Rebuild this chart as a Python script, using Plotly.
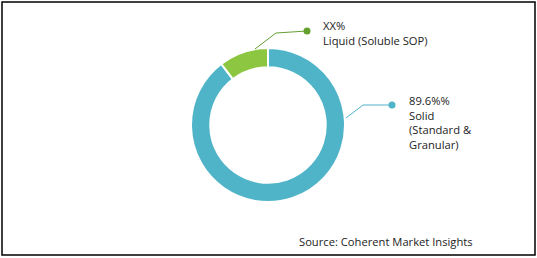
import plotly.graph_objects as go

labels = ["Solid (Standard & Granular)", "Liquid (Soluble SOP)"]
values = [89.6, 10.4]
label_texts = ["89.6%%<br>Solid<br>(Standard &<br>Granular)", "XX%<br>Liquid (Soluble SOP)"]
colors = ["#4FB4C8", "#8DC641"]
dot_colors = ["#4FB4C8", "#64A02F"]
source = "Source: Coherent Market Insights"

W, H = 537, 258
def px(x): return x / W
def py(y): return 1 - y / H

cx, cy, r = 268, 125, 77
fig = go.Figure()
fig.add_trace(go.Pie(
    labels=labels, values=values, hole=0.75, sort=False, direction="clockwise",
    rotation=0, marker=dict(colors=colors, line=dict(color="white", width=2)),
    textinfo="none", hoverinfo="label+percent", showlegend=False,
    domain=dict(x=[px(cx - r), px(cx + r)], y=[py(cy + r), py(cy - r)]),
))

font = dict(family="Open Sans", size=11.2, color="#222222")
shapes = [dict(type="rect", xref="paper", yref="paper", x0=px(2), x1=px(535), y0=py(255), y1=py(2),
               line=dict(color="black", width=1.5))]
# leader lines: (points), dot, text position
leaders = [
    ([(346, 118), (363, 105), (392, 105)], 0, (407, 91)),
    ([(255, 49), (276, 33), (307, 31)], 1, (321, 16)),
]
annotations = []
for pts, i, (tx, ty) in leaders:
    for (x0, y0), (x1, y1) in zip(pts[:-1], pts[1:]):
        shapes.append(dict(type="line", xref="paper", yref="paper", x0=px(x0), y0=py(y0),
                           x1=px(x1), y1=py(y1), line=dict(color=dot_colors[i], width=1)))
    dx, dy = pts[-1]
    shapes.append(dict(type="circle", xref="paper", yref="paper", x0=px(dx - 3.5), x1=px(dx + 3.5),
                       y0=py(dy + 3.5), y1=py(dy - 3.5), fillcolor=dot_colors[i], line=dict(width=0)))
    annotations.append(dict(text=label_texts[i], xref="paper", yref="paper", x=px(tx), y=py(ty),
                            xanchor="left", yanchor="top", align="left", showarrow=False, font=font))
annotations.append(dict(text=source, xref="paper", yref="paper", x=px(297), y=py(241),
                        xanchor="left", yanchor="middle", showarrow=False, font=font))

fig.update_layout(width=W, height=H, margin=dict(l=0, r=0, t=0, b=0), paper_bgcolor="white",
                  plot_bgcolor="white", shapes=shapes, annotations=annotations)
fig.write_html("out.html")
